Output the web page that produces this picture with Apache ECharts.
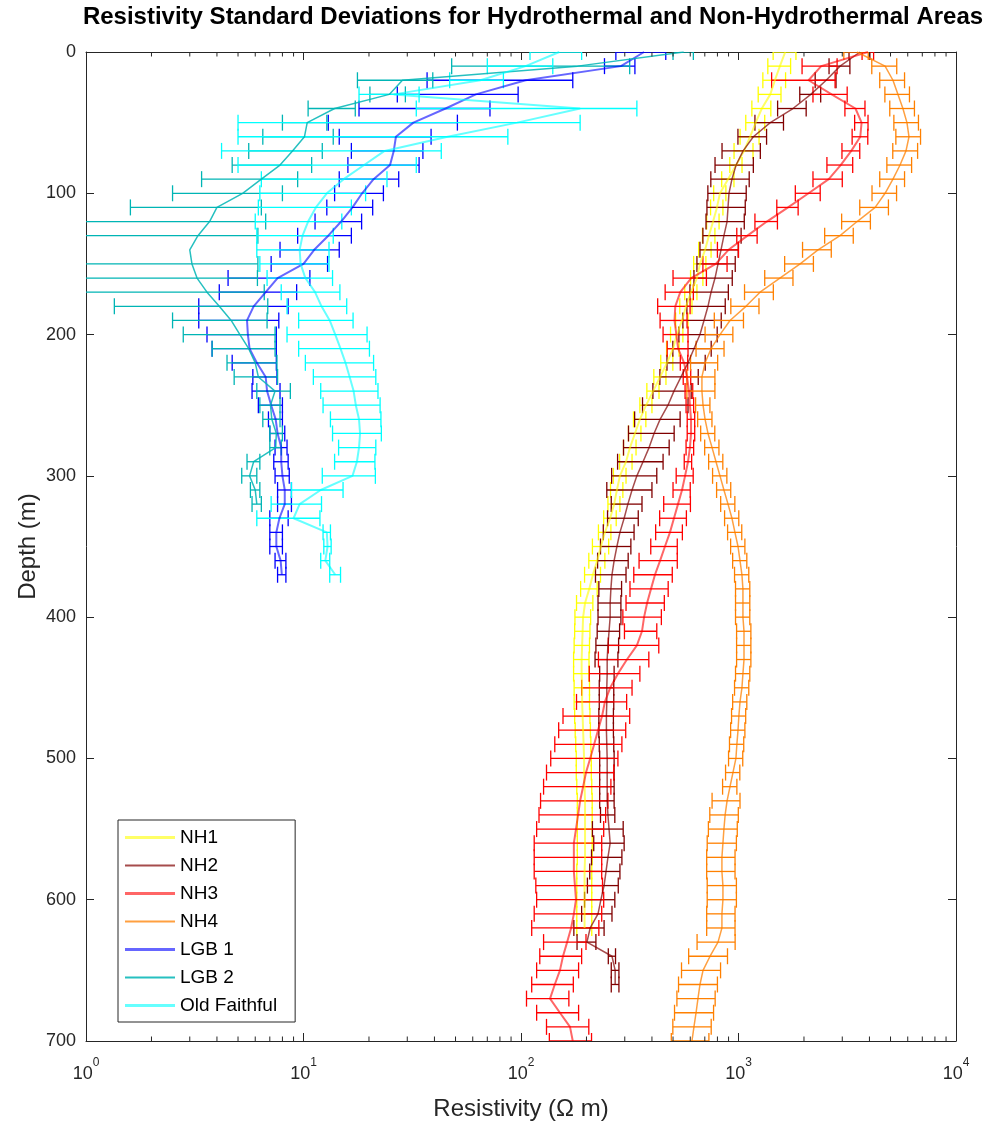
<!DOCTYPE html>
<html>
<head>
<meta charset="utf-8">
<script src="https://cdn.jsdelivr.net/npm/echarts@6/dist/echarts.min.js"></script>
<style>
html,body{margin:0;padding:0;background:#fff;}
#chart{width:1001px;height:1126px;}
</style>
</head>
<body>
<div id="chart"></div>
<script>
// ---------------- DATA ----------------
const depths = [0,10,20,30,40,50,60,70,80,90,100,110,120,130,140,150,160,170,180,190,200,210,220,230,240,250,260,270,280,290,300,310,320,330,340,350,360,370,380,390,400,410,420,430,440,450,460,470,480,490,500,510,520,530,540,550,560,570,580,590,600,610,620,630,640,650,660,670,680,690,700];

const nh1Values = [1640,1550,1470,1400,1280,1200,1130,1060,975,895,822,796,764,731,702,665,644,605,574,550,521,500,469,436,405,376,352,334,317,304,285,276,268,257,243,233,224,214,206,197,193,192,191,190,190,191,191,192,193,194,195,195,196,197,197,197,197,197,196,196,196,196,196];
const nh1Std = [197,186,176,168,128,120,113,106,63,58,53,52,50,48,46,43,42,39,37,36,34,33,30,28,26,24,23,22,21,20,19,18,17,17,16,20,19,18,18,17,16,15.5,15.5,15.5,15.5,15.5,15.5,15.5,15.5,15.5,15.5,15.5,15.5,15.5,15.5,15.5,15.5,15.5,15.5,15.5,15.5,15.5,15.5];

const nh2Values = [3620,2930,2530,2150,1780,1400,1170,1050,975,933,904,895,886,857,831,805,780,748,724,694,665,624,586,544,505,474,436,409,388,364,341,324,310,298,285,276,268,262,259,257,257,254,251,249,249,248,248,247,247,248,249,249,249,249,251,254,257,251,246,241,233,226,208,201,262,271,271];
const nh2Std = [398,322,278,237,267,210,176,210,195,187,181,179,177,171,166,161,156,150,145,139,133,125,117,109,101,112,103,97,92,86,80,76,50,48,46,44,43,42,31,31,31,30,30,30,19,19,19,19,19,19,19,19,19,19,19,41,41,40,39,39,37,36,33,20,10,11,11];

const nh3Values = [3940,2400,2100,2680,3450,3680,3630,3300,2950,2600,2100,1690,1350,1100,900,786,606,540,512,508,518,528,562,580,592,598,605,605,598,586,568,550,527,505,484,459,436,413,396,380,368,360,341,307,279,257,243,236,226,217,208,199,193,187,183,179,175,175,175,177,179,175,170,163,156,151,143,136,151,168,173];
const nh3Std = [240,440,680,480,365,260,300,310,400,400,275,190,160,118,100,100,106,80,87,72,68,58,22,23,24,24,24,24,24,23,51,50,74,71,68,64,87,83,79,76,74,61,89,80,73,67,63,80,77,74,71,68,66,64,62,61,60,60,60,60,61,60,58,36,34,33,31,30,33,37,38];

const nh4Values = [3500,4720,5130,5410,5700,5950,6080,5890,5530,5130,4720,4250,3510,2930,2320,1920,1550,1256,1082,914,822,748,702,679,679,687,702,724,756,788,822,857,895,933,963,995,1016,1037,1048,1048,1048,1060,1060,1060,1048,1037,1016,1004,995,983,973,943,914,886,868,857,848,839,839,848,848,839,839,805,740,687,665,651,638,624,611];
const nh4Std = [450,620,670,700,740,770,790,770,720,670,610,640,530,440,350,290,230,190,160,140,120,110,100,100,100,52,53,54,57,59,62,64,67,70,72,75,76,78,79,79,79,80,80,80,79,78,76,75,75,74,73,71,69,130,130,130,130,125,125,130,130,125,125,160,150,140,135,130,130,125,120];

const lgb1Values = [368,288,105,62,45,32,26.6,26,25,21,18.6,16.8,14.9,13,11.2,10,7.6,6.7,5.9,5.5,5.55,5.65,6.1,6.7,6.8,7.1,7.45,7.6,7.9,7.9,8.0,8.2,8.2,7.75,7.5,7.5,7.85,7.95];
const lgb1Std = [95,46,68,35,27,19,12,9.4,9,6.4,4.7,4.0,3.6,3.6,3.4,2.9,3.1,2.6,2.6,2.2,1.95,1.85,1.4,0.85,1.0,0.9,0.55,0.6,0.5,0.6,0.6,0.6,0.6,0.75,0.5,0.5,0.45,0.35];

const lgb2Values = [560,182,28.5,24.8,13.9,10.4,10.1,8.9,7.8,6.4,5.25,4.0,3.7,3.27,3.0,3.07,3.24,3.6,4.1,4.65,5.1,5.6,6.0,6.2,7.4,7.05,7.15,7.5,7.45,5.9,5.65,6.0,6.1];
const lgb2Std = [60,134,10.8,4.6,3.4,2.4,3.6,3.3,3.1,3.0,2.75,2.4,3.0,2.9,null,3.1,2.9,3.0,2.75,2.15,2.3,1.8,1.55,1.4,1.3,0.75,0.65,0.5,0.45,0.4,0.45,0.3,0.3];

const ofValues = [150,105,65,26,187,96,46,23.6,19,15.3,12.8,11.4,10.5,9.9,9.6,9.7,10.2,11.3,12.1,13.2,14.0,14.8,15.6,16.3,17.0,17.4,18.0,18.2,18.0,17.6,16.8,12.0,9.6,9.0,12.8,12.9,12.6,14.0];
const ofStd = [40,35,18,8,154,91,41,19.4,14,8.9,6.5,5.2,4.5,3.8,3.5,3.4,3.4,3.4,3.7,3.7,5.6,5.3,5.4,5.2,5.0,5.1,4.7,4.6,3.5,3.7,4.6,3.2,2.5,2.9,0.5,0.5,0.6,0.8];

const minorTickValues = [2,3,4,5,6,7,8,9,20,30,40,50,60,70,80,90,200,300,400,500,600,700,800,900,2000,3000,4000,5000,6000,7000,8000,9000];

const seriesDefs = [
  {name:'NH1', values:nh1Values, std:nh1Std, color:'#ffff00', lineColor:'rgba(255,255,0,0.6)', lw:2, legendThick:3},
  {name:'NH2', values:nh2Values, std:nh2Std, color:'#800000', lineColor:'rgba(128,0,0,0.7)', lw:1.5, legendThick:2},
  {name:'NH3', values:nh3Values, std:nh3Std, color:'#ff0000', lineColor:'rgba(255,0,0,0.6)', lw:2, legendThick:3},
  {name:'NH4', values:nh4Values, std:nh4Std, color:'#ff8000', lineColor:'rgba(255,128,0,0.75)', lw:1.5, legendThick:2},
  {name:'LGB 1', values:lgb1Values, std:lgb1Std, color:'#0000ff', lineColor:'rgba(0,0,255,0.6)', lw:2, legendThick:3},
  {name:'LGB 2', values:lgb2Values, std:lgb2Std, color:'#00b5b5', lineColor:'rgba(0,181,181,0.85)', lw:1.5, legendThick:2},
  {name:'Old Faithful', values:ofValues, std:ofStd, color:'#00ffff', lineColor:'rgba(0,255,255,0.6)', lw:2, legendThick:3}
];

// ---------------- CHART ----------------
const FONT = '"Liberation Sans", Arial, Helvetica, sans-serif';
const AXIS_MIN = 1;
const CAP = 8;

function errRender(color) {
  return function (params, api) {
    const c = api.value(0), s = api.value(1), d = api.value(2);
    if (s == null || isNaN(s) || c == null) return null;
    const lo = c - s, hi = c + s;
    const clipped = lo <= AXIS_MIN;
    const pL = api.coord([clipped ? AXIS_MIN : lo, d]);
    const pR = api.coord([hi, d]);
    const st = {stroke: color, lineWidth: 1.3, fill: null};
    const children = [
      {type:'line', shape:{x1:pL[0], y1:pL[1], x2:pR[0], y2:pR[1]}, style: st},
      {type:'line', shape:{x1:pR[0], y1:pR[1]-CAP, x2:pR[0], y2:pR[1]+CAP}, style: st}
    ];
    if (!clipped) children.push({type:'line', shape:{x1:pL[0], y1:pL[1]-CAP, x2:pL[0], y2:pL[1]+CAP}, style: st});
    return {type:'group', children: children};
  };
}

const series = [];
seriesDefs.forEach(function (def) {
  const errData = [], lineData = [];
  def.values.forEach(function (v, i) {
    errData.push([v, def.std[i], depths[i]]);
    lineData.push([v, depths[i]]);
  });
  series.push({
    type:'custom', name: def.name + ' err', renderItem: errRender(def.color),
    data: errData, encode:{x:0, y:2}, silent:true, clip:true, z:2
  });
  series.push({
    type:'line', name: def.name, data: lineData, symbol:'none', showSymbol:false,
    lineStyle:{color: def.lineColor, width: def.lw}, itemStyle:{color: def.lineColor},
    silent:true, clip:true, z:3
  });
});

// minor ticks for the log axis (top and bottom)
series.push({
  type:'custom', name:'minor', silent:true, clip:false, z:5,
  data: minorTickValues.map(function (v) { return [v, 0]; }),
  encode:{x:0, y:1},
  renderItem: function (params, api) {
    const v = api.value(0);
    const top = api.coord([v, 0]);
    const bot = api.coord([v, 700]);
    const st = {stroke:'#262626', lineWidth:1};
    return {type:'group', children:[
      {type:'line', shape:{x1:top[0], y1:top[1], x2:top[0], y2:top[1]+4.5}, style:st},
      {type:'line', shape:{x1:bot[0], y1:bot[1], x2:bot[0], y2:bot[1]-4.5}, style:st}
    ]};
  }
});

const axisLineStyle = {color:'#262626', width:1};

const option = {
  animation:false,
  backgroundColor:'#ffffff',
  textStyle:{fontFamily: FONT},
  grid:{left:86, right:45, top:52, bottom:83, containLabel:false},
  graphic:[{
    type:'text', x:533, y:17,
    style:{text:'Resistivity Standard Deviations for Hydrothermal and Non-Hydrothermal Areas',
      font:'bold 24px ' + FONT, fill:'#000', textAlign:'center', textVerticalAlign:'middle'}
  }],
  legend:{
    orient:'vertical', left:118, top:820,
    itemWidth:50, itemHeight:14, itemGap:9,
    padding:[8,18,7,7],
    borderColor:'#262626', borderWidth:1, backgroundColor:'#ffffff',
    textStyle:{fontSize:19, color:'#000', fontFamily:FONT, lineHeight:14},
    data: seriesDefs.map(function (d) {
      return {name:d.name, icon:'path://M0,0L50,0L50,' + d.legendThick + 'L0,' + d.legendThick + 'Z'};
    }),
    symbolKeepAspect:true,
    selectedMode:false, z:10
  },
  xAxis:[{
    type:'log', logBase:10, min:1, max:10000, position:'bottom',
    axisLine:{show:true, onZero:false, lineStyle:axisLineStyle},
    axisTick:{show:true, inside:true, length:8, lineStyle:axisLineStyle},
    minorTick:{show:false},
    splitLine:{show:false},
    axisLabel:{
      margin:16, color:'#262626',
      formatter:function (v) { return '{b|10}{s|' + Math.round(Math.log10(v)) + '}'; },
      rich:{
        b:{fontSize:18, fontFamily:FONT, color:'#262626', lineHeight:26, verticalAlign:'bottom'},
        s:{fontSize:12, fontFamily:FONT, color:'#262626', lineHeight:12, verticalAlign:'top'}
      }
    },
    name:'Resistivity (\u03A9 m)', nameLocation:'middle', nameGap:56,
    nameTextStyle:{fontSize:24, color:'#262626', fontFamily:FONT}
  },{
    type:'log', logBase:10, min:1, max:10000, position:'top',
    axisLine:{show:true, onZero:false, lineStyle:axisLineStyle},
    axisTick:{show:true, inside:true, length:8, lineStyle:axisLineStyle},
    axisLabel:{show:false}, splitLine:{show:false}
  }],
  yAxis:[{
    type:'value', inverse:true, min:0, max:700, interval:100, position:'left',
    axisLine:{show:true, onZero:false, lineStyle:axisLineStyle},
    axisTick:{show:true, inside:true, length:8, lineStyle:axisLineStyle},
    splitLine:{show:false},
    axisLabel:{fontSize:18, color:'#262626', margin:10, fontFamily:FONT},
    name:'Depth (m)', nameLocation:'middle', nameGap:46, nameRotate:90,
    nameMoveOverlap:false,
    nameTextStyle:{fontSize:24, color:'#262626', fontFamily:FONT}
  },{
    type:'value', inverse:true, min:0, max:700, interval:100, position:'right',
    axisLine:{show:true, onZero:false, lineStyle:axisLineStyle},
    axisTick:{show:true, inside:true, length:8, lineStyle:axisLineStyle},
    axisLabel:{show:false}, splitLine:{show:false}
  }],
  series: series
};

const chart = echarts.init(document.getElementById('chart'), null, {renderer:'canvas'});
chart.setOption(option);
</script>
</body>
</html>
